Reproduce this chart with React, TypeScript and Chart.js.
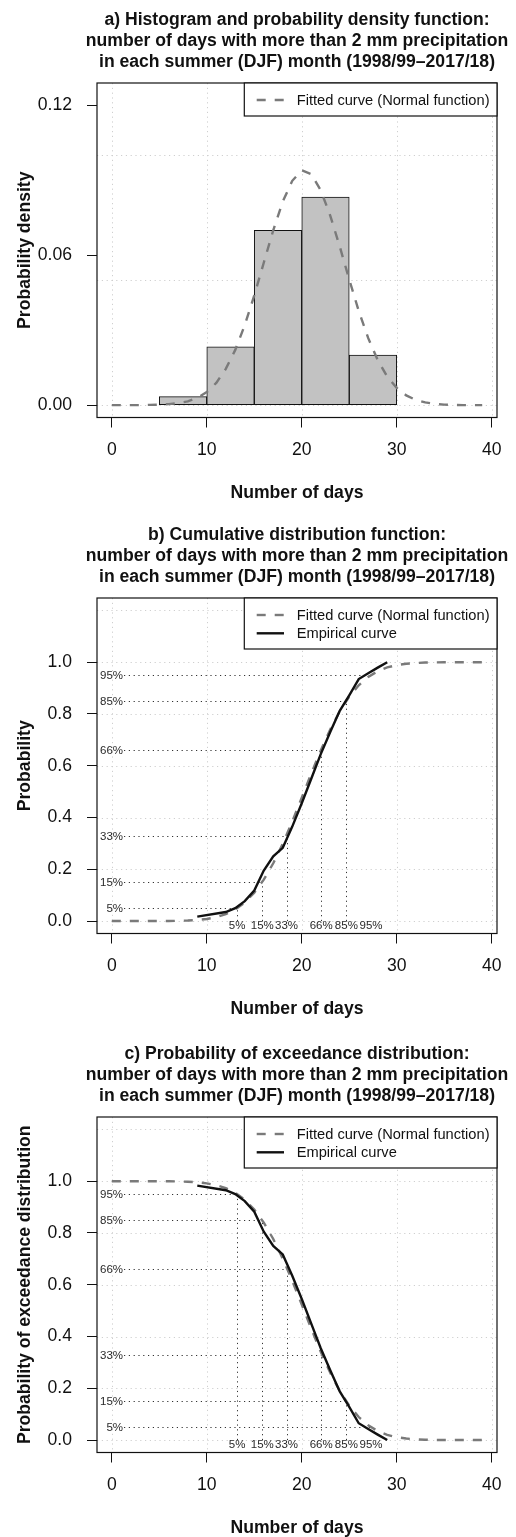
import React, { useEffect, useRef } from "react";
import { Chart, registerables } from "chart.js";

Chart.register(...registerables);

const FONT = '"Liberation Sans", Arial, Helvetica, sans-serif';
const CANVAS_W = 516;
const X_MIN = -1.56;
const X_MAX = 40.56;

// ---------- data ----------
const xTicks = [0, 10, 20, 30, 40];

// histogram (density) of number of days, bins of 5 days
const binStarts = [5, 10, 15, 20, 25];
const binEnds = [10, 15, 20, 25, 30];
const binDensity = [0.0034, 0.0233, 0.07, 0.0833, 0.02];

// fitted normal curve sampled at whole days
const fitX = [0, 1, 2, 3, 4, 5, 6, 7, 8, 9, 10, 11, 12, 13, 14, 15, 16, 17, 18, 19, 20, 21, 22, 23, 24, 25, 26, 27, 28, 29, 30, 31, 32, 33, 34, 35, 36, 37, 38, 39];
const fitPdf = [0, 0, 0, 0, 0.0001, 0.0002, 0.0004, 0.0008, 0.0015, 0.0029, 0.0052, 0.0089, 0.0145, 0.0221, 0.032, 0.0439, 0.057, 0.07, 0.0815, 0.0898, 0.094, 0.0925, 0.086, 0.0759, 0.0635, 0.0503, 0.0377, 0.0268, 0.018, 0.0114, 0.0069, 0.0039, 0.0021, 0.0011, 0.0005, 0.0002, 0.0001, 0, 0, 0];
const fitCdf = [0, 0, 0, 0, 0.0001, 0.0002, 0.0004, 0.001, 0.0021, 0.0042, 0.0082, 0.0152, 0.0267, 0.0448, 0.0716, 0.1094, 0.1599, 0.2233, 0.2991, 0.3848, 0.4767, 0.5697, 0.659, 0.7402, 0.81, 0.8669, 0.911, 0.9431, 0.9652, 0.9798, 0.9888, 0.9941, 0.997, 0.9986, 0.9994, 0.9997, 0.9999, 1, 1, 1];
const fitExceed = [1, 1, 1, 1, 0.9999, 0.9998, 0.9996, 0.999, 0.9979, 0.9958, 0.9918, 0.9848, 0.9733, 0.9552, 0.9284, 0.8906, 0.8401, 0.7767, 0.7009, 0.6152, 0.5233, 0.4303, 0.341, 0.2598, 0.19, 0.1331, 0.089, 0.0569, 0.0348, 0.0202, 0.0112, 0.0059, 0.003, 0.0014, 0.0006, 0.0003, 0.0001, 0, 0, 0];

// empirical curve
const empX = [9, 12, 13, 14, 15, 16, 17, 18, 19, 20, 21, 22, 23, 24, 25, 26, 27, 28, 29];
const empCdf = [0.017, 0.035, 0.05, 0.077, 0.118, 0.195, 0.25, 0.283, 0.365, 0.455, 0.55, 0.645, 0.73, 0.812, 0.872, 0.935, 0.957, 0.979, 1.0];
const empExceed = [0.983, 0.965, 0.95, 0.923, 0.882, 0.805, 0.75, 0.717, 0.635, 0.545, 0.45, 0.355, 0.27, 0.188, 0.128, 0.065, 0.043, 0.021, 0.0];

// percentiles
const pctLabels = ["5%", "15%", "33%", "66%", "85%", "95%"];
const pctLevels = [0.05, 0.15, 0.33, 0.66, 0.85, 0.95];
const pctQuantX = [13.2, 15.85, 18.4, 22.05, 24.7, 27.3];
const pctVertical = [true, true, true, true, true, false];

const FIT_LABEL = "Fitted curve (Normal function)";
const EMP_LABEL = "Empirical curve";

const GRAY = "#7a7a7a";

type Kind = "pdf" | "cdf" | "exc";
interface PanelDef {
  kind: Kind;
  top: number;
  height: number;
  areaBottom: number;
  title: string[];
  yTitle: string;
  yMin: number;
  yMax: number;
  yTicks: number[];
  yGrid: number[];
  dec: number;
}

const panels: PanelDef[] = [
  {
    kind: "pdf",
    top: 0,
    height: 515,
    areaBottom: 417.5,
    title: [
      "a) Histogram and probability density function:",
      "number of days with more than 2 mm precipitation",
      "in each summer (DJF) month (1998/99\u20132017/18)",
    ],
    yTitle: "Probability density",
    yMin: -0.00496,
    yMax: 0.12896,
    yTicks: [0, 0.06, 0.12],
    yGrid: [0, 0.05, 0.1],
    dec: 2,
  },
  {
    kind: "cdf",
    top: 515,
    height: 519,
    areaBottom: 418.5,
    title: [
      "b) Cumulative distribution function:",
      "number of days with more than 2 mm precipitation",
      "in each summer (DJF) month (1998/99\u20132017/18)",
    ],
    yTitle: "Probability",
    yMin: -0.048,
    yMax: 1.248,
    yTicks: [0, 0.2, 0.4, 0.6, 0.8, 1.0],
    yGrid: [0, 0.2, 0.4, 0.6, 0.8, 1.0, 1.2],
    dec: 1,
  },
  {
    kind: "exc",
    top: 1034,
    height: 503,
    areaBottom: 418.5,
    title: [
      "c) Probability of exceedance distribution:",
      "number of days with more than 2 mm precipitation",
      "in each summer (DJF) month (1998/99\u20132017/18)",
    ],
    yTitle: "Probability of exceedance distribution",
    yMin: -0.048,
    yMax: 1.248,
    yTicks: [0, 0.2, 0.4, 0.6, 0.8, 1.0],
    yGrid: [0, 0.2, 0.4, 0.6, 0.8, 1.0, 1.2],
    dec: 1,
  },
];

const AREA_LEFT = 97;
const AREA_RIGHT = 497;
const AREA_TOP = 83;

function line(ctx: CanvasRenderingContext2D, x1: number, y1: number, x2: number, y2: number) {
  ctx.beginPath();
  ctx.moveTo(x1, y1);
  ctx.lineTo(x2, y2);
  ctx.stroke();
}

function makeDecor(p: PanelDef) {
  return {
    id: "decor",
    beforeDatasetsDraw(chart: any) {
      const { ctx, chartArea: ca, scales } = chart;
      const xs = scales.x;
      const ys = scales.y;
      ctx.save();
      ctx.beginPath();
      ctx.rect(ca.left, ca.top, ca.right - ca.left, ca.bottom - ca.top);
      ctx.clip();
      // light grid
      ctx.setLineDash([1.2, 3.6]);
      ctx.strokeStyle = "#cfcfcf";
      ctx.lineWidth = 1;
      for (const v of xTicks) {
        const px = Math.round(xs.getPixelForValue(v)) + 0.5;
        line(ctx, px, ca.top, px, ca.bottom);
      }
      for (const v of p.yGrid) {
        const py = Math.round(ys.getPixelForValue(v)) + 0.5;
        line(ctx, ca.left, py, ca.right, py);
      }
      if (p.kind !== "pdf") {
        ctx.strokeStyle = "#333";
        ctx.fillStyle = "#2a2a2a";
        ctx.font = `11.5px ${FONT}`;
        const labelRight = 123;
        for (let i = 0; i < pctLevels.length; i++) {
          const lvl = pctLevels[i];
          const qx = p.kind === "cdf" ? pctQuantX[i] : pctQuantX[pctLevels.length - 1 - i];
          const py = Math.round(ys.getPixelForValue(lvl)) + 0.5;
          const pxq = xs.getPixelForValue(qx);
          ctx.setLineDash([1.2, 3.6]);
          line(ctx, labelRight + 1, py, pxq, py);
          ctx.textAlign = "right";
          ctx.textBaseline = "middle";
          ctx.fillText(pctLabels[i], labelRight, py);
        }
        const y0 = ys.getPixelForValue(0);
        for (let i = 0; i < pctQuantX.length; i++) {
          const px = Math.round(xs.getPixelForValue(pctQuantX[i])) + 0.5;
          if (pctVertical[i]) {
            const topLvl = p.kind === "cdf" ? pctLevels[i] : 1 - pctLevels[i];
            ctx.setLineDash([1.2, 3.6]);
            line(ctx, px, y0, px, ys.getPixelForValue(topLvl));
          }
          ctx.textAlign = "center";
          ctx.textBaseline = "middle";
          ctx.fillText(pctLabels[i], xs.getPixelForValue(pctQuantX[i]), y0 + 4.5);
        }
      }
      ctx.restore();
    },
    afterDatasetsDraw(chart: any) {
      const { ctx, chartArea: ca } = chart;
      ctx.save();
      ctx.setLineDash([]);
      ctx.strokeStyle = "#111";
      ctx.lineWidth = 1.2;
      ctx.strokeRect(ca.left, ca.top, ca.right - ca.left, ca.bottom - ca.top);
      // legend
      const items = p.kind === "pdf" ? [{ label: FIT_LABEL, dash: true }] : [{ label: FIT_LABEL, dash: true }, { label: EMP_LABEL, dash: false }];
      const lLeft = 244.3;
      const lTop = ca.top;
      const lH = items.length === 1 ? 33 : 51;
      ctx.fillStyle = "#fff";
      ctx.fillRect(lLeft, lTop, ca.right - lLeft, lH);
      ctx.strokeRect(lLeft, lTop, ca.right - lLeft, lH);
      items.forEach((it, i) => {
        const y = lTop + 17 + i * 18.3;
        ctx.lineWidth = 2.4;
        if (it.dash) {
          ctx.strokeStyle = GRAY;
          ctx.setLineDash([9, 9]);
        } else {
          ctx.strokeStyle = "#111";
          ctx.setLineDash([]);
        }
        line(ctx, 256.7, y, 284, y);
        ctx.setLineDash([]);
        ctx.fillStyle = "#111";
        ctx.font = `14.65px ${FONT}`;
        ctx.textAlign = "left";
        ctx.textBaseline = "middle";
        ctx.fillText(it.label, 296.7, y + 0.5);
      });
      ctx.restore();
    },
    afterDraw(chart: any) {
      const { ctx, chartArea: ca } = chart;
      ctx.save();
      ctx.fillStyle = "#111";
      ctx.font = `bold 17.6px ${FONT}`;
      ctx.textAlign = "center";
      ctx.textBaseline = "middle";
      const cx = (ca.left + ca.right) / 2;
      const ys = [20, 41, 62];
      p.title.forEach((t, i) => ctx.fillText(t, cx, ys[i]));
      // x title
      ctx.fillText("Number of days", cx, ca.bottom + 76);
      // y title
      ctx.translate(25, (ca.top + ca.bottom) / 2);
      ctx.rotate(-Math.PI / 2);
      ctx.fillText(p.yTitle, 0, 0);
      ctx.restore();
    },
  };
}

function buildConfig(p: PanelDef): any {
  const datasets: any[] = [];
  if (p.kind === "pdf") {
    datasets.push({
      type: "line",
      label: FIT_LABEL,
      data: fitX.map((x, i) => ({ x, y: fitPdf[i] })),
      borderColor: GRAY,
      borderWidth: 2.4,
      borderDash: [9, 9],
      pointRadius: 0,
      tension: 0,
      fill: false,
      order: 0,
    });
    datasets.push({
      type: "bar",
      label: "Histogram",
      data: binStarts.map((s, i) => ({ x: (s + binEnds[i]) / 2, y: binDensity[i] })),
      backgroundColor: "#c2c2c2",
      borderColor: "#111",
      borderWidth: 1,
      borderSkipped: false,
      barPercentage: 1,
      categoryPercentage: 1,
      order: 1,
    });
  } else {
    const fitY = p.kind === "cdf" ? fitCdf : fitExceed;
    const empY = p.kind === "cdf" ? empCdf : empExceed;
    datasets.push({
      type: "line",
      label: EMP_LABEL,
      data: empX.map((x, i) => ({ x, y: empY[i] })),
      borderColor: "#111",
      borderWidth: 2.4,
      pointRadius: 0,
      tension: 0,
      fill: false,
      order: 0,
    });
    datasets.push({
      type: "line",
      label: FIT_LABEL,
      data: fitX.map((x, i) => ({ x, y: fitY[i] })),
      borderColor: GRAY,
      borderWidth: 2.4,
      borderDash: [9, 9],
      pointRadius: 0,
      tension: 0,
      fill: false,
      order: 1,
    });
  }
  const xAxisHeight = p.height - p.areaBottom;
  return {
    type: p.kind === "pdf" ? "bar" : "line",
    data: { datasets },
    options: {
      responsive: false,
      maintainAspectRatio: false,
      animation: false,
      events: [],
      layout: { padding: { top: AREA_TOP, left: 0, right: CANVAS_W - AREA_RIGHT, bottom: 0 } },
      plugins: { legend: { display: false }, tooltip: { enabled: false }, title: { display: false } },
      scales: {
        x: {
          type: "linear",
          min: X_MIN,
          max: X_MAX,
          offset: false,
          afterBuildTicks: (s: any) => {
            s.ticks = xTicks.map((v) => ({ value: v }));
          },
          afterFit: (s: any) => {
            s.height = xAxisHeight;
            s.paddingLeft = 0;
            s.paddingRight = 0;
          },
          ticks: {
            callback: (v: any) => String(v),
            font: { family: FONT, size: 17.6 },
            color: "#111",
            padding: 12.5,
            maxRotation: 0,
            autoSkip: false,
          },
          grid: { display: true, offset: false, drawOnChartArea: false, drawTicks: true, tickLength: 10, color: "#111", lineWidth: 1 },
          border: { display: false },
        },
        y: {
          type: "linear",
          min: p.yMin,
          max: p.yMax,
          afterBuildTicks: (s: any) => {
            s.ticks = p.yTicks.map((v) => ({ value: v }));
          },
          afterFit: (s: any) => {
            s.width = AREA_LEFT;
            s.paddingTop = 0;
            s.paddingBottom = 0;
          },
          ticks: {
            callback: (v: any) => Number(v).toFixed(p.dec),
            font: { family: FONT, size: 17.6 },
            color: "#111",
            padding: 15,
            autoSkip: false,
          },
          grid: { display: true, drawOnChartArea: false, drawTicks: true, tickLength: 10, color: "#111", lineWidth: 1 },
          border: { display: false },
        },
      },
    },
    plugins: [makeDecor(p)],
  };
}

function Panel({ p }: { p: PanelDef }) {
  const ref = useRef<HTMLCanvasElement | null>(null);
  useEffect(() => {
    if (!ref.current) return;
    const chart = new Chart(ref.current, buildConfig(p));
    return () => chart.destroy();
  }, [p]);
  return (
    <div style={{ position: "absolute", left: 0, top: p.top, width: CANVAS_W, height: p.height }}>
      <canvas ref={ref} width={CANVAS_W} height={p.height} style={{ width: CANVAS_W, height: p.height, display: "block" }} />
    </div>
  );
}

export default function App() {
  return (
    <div style={{ position: "absolute", left: 0, top: 0, width: CANVAS_W, height: 1537, background: "#fff" }}>
      {panels.map((p) => (
        <Panel key={p.kind} p={p} />
      ))}
    </div>
  );
}
